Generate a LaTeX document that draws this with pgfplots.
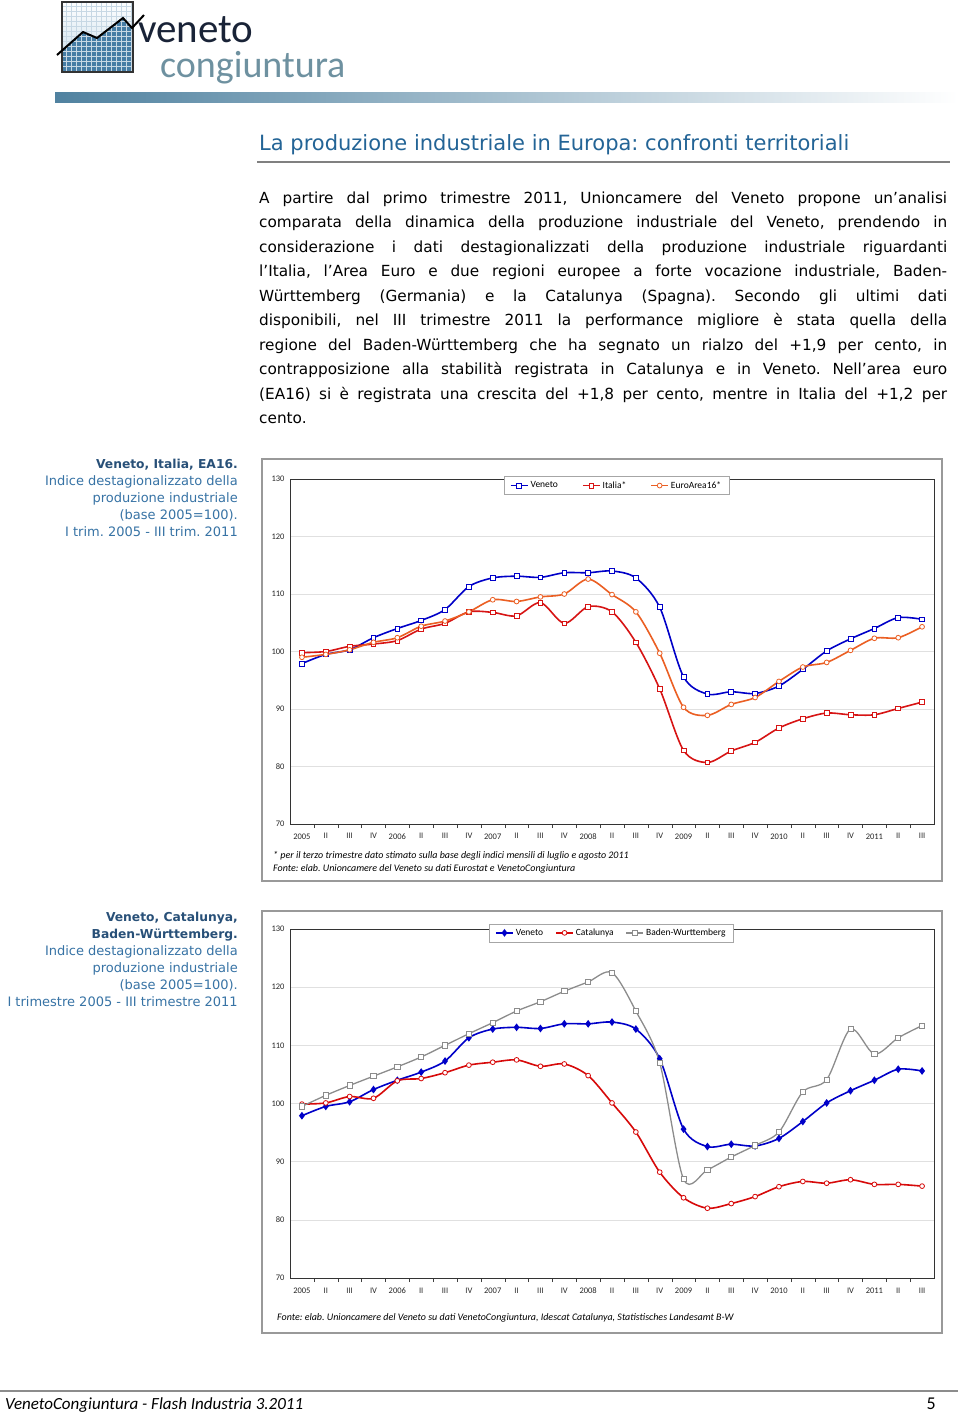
\documentclass[border=0pt]{standalone}
\usepackage{fontspec}
\setmainfont{DejaVu Sans}
\newfontfamily\carl{Carlito}
\usepackage{pgfplots}
\usepackage{pgfplotstable}
\pgfplotsset{compat=1.18}
\frenchspacing

\definecolor{titleblue}{RGB}{35,100,150}
\definecolor{capblue}{RGB}{55,115,165}
\definecolor{capdark}{RGB}{40,80,120}
\definecolor{vblue}{RGB}{0,0,200}
\definecolor{ired}{RGB}{215,20,20}
\definecolor{eorange}{RGB}{235,95,35}
\definecolor{cred}{RGB}{215,10,10}
\definecolor{bwgray}{RGB}{140,140,140}
\definecolor{logoblue}{RGB}{70,125,165}
\definecolor{barblue}{RGB}{80,130,160}
\definecolor{logodark}{RGB}{25,35,55}
\definecolor{logogray}{RGB}{110,145,160}

\pgfplotstableread{
x ven ita ea
1 97.9 99.8 99.0
2 99.5 100.0 99.5
3 100.3 100.9 100.3
4 102.4 101.3 101.6
5 104.0 101.9 102.4
6 105.4 103.9 104.4
7 107.3 104.9 105.3
8 111.3 106.9 106.9
9 112.8 106.8 109.0
10 113.1 106.2 108.7
11 112.9 108.5 109.5
12 113.7 104.9 110.0
13 113.7 107.8 112.6
14 114.0 106.9 109.9
15 112.8 101.6 106.9
16 107.7 93.5 99.7
17 95.6 82.8 90.3
18 92.6 80.7 88.9
19 93.0 82.7 90.8
20 92.7 84.2 92.0
21 94.0 86.7 94.8
22 96.9 88.3 97.3
23 100.1 89.3 98.1
24 102.2 89.0 100.2
25 104.0 89.0 102.3
26 105.9 90.1 102.4
27 105.6 91.2 104.3
}\dataA

\pgfplotstableread{
x ven cat bw
1 97.9 99.9 99.5
2 99.5 100.1 101.4
3 100.3 101.2 103.1
4 102.4 100.9 104.7
5 104.0 103.9 106.3
6 105.4 104.3 108.0
7 107.3 105.3 110.0
8 111.3 106.6 112.0
9 112.8 107.1 113.9
10 113.1 107.5 115.9
11 112.9 106.4 117.5
12 113.7 106.8 119.3
13 113.7 104.8 120.9
14 114.0 100.1 122.5
15 112.8 95.1 115.9
16 107.7 88.2 107.0
17 95.6 83.8 87.0
18 92.6 82.0 88.6
19 93.0 82.8 90.8
20 92.7 84.0 92.8
21 94.0 85.7 95.1
22 96.9 86.6 102.0
23 100.1 86.3 104.1
24 102.2 86.9 112.8
25 104.0 86.1 108.5
26 105.9 86.1 111.3
27 105.6 85.8 113.4
}\dataB

\pgfplotsset{
  pagechart/.style={
    scale only axis, width=644pt,
    xmin=0.5, xmax=27.5, ymin=70, ymax=130,
    ytick={70,80,...,130},
    xtick={1,...,27},
    xticklabels={2005,II,III,IV,2006,II,III,IV,2007,II,III,IV,2008,II,III,IV,2009,II,III,IV,2010,II,III,IV,2011,II,III},
    minor xtick={1.5,2.5,...,26.5},
    xtick pos=left, ytick pos=left,
    tick align=outside,
    major tick length=0pt,
    minor tick length=4pt,
    minor x tick style={draw=black!75},
    ymajorgrids, grid style={black!12},
    axis line style={draw=black!80, line width=0.8pt},
    /pgf/number format/assume math mode=true,
    ticklabel style={font=\carl\fontsize{8.5}{10}\selectfont, text=black!85},
    xticklabel style={yshift=-6pt},
    yticklabel style={xshift=-2pt},
    legend columns=3,
    legend style={draw=black!35, fill=white, font=\carl\fontsize{9.5}{10}\selectfont,
      inner xsep=6pt, inner ysep=3pt},
    legend cell align=left,
    every axis plot/.append style={smooth, tension=0.5},
  }
}

\begin{document}
\begin{tikzpicture}
\path[use as bounding box, fill=white] (0,0) rectangle (960pt,-1414pt);

\begin{scope}[x=1pt,y=-1pt]
% ---------- logo ----------
\shade[top color=white, bottom color={rgb,255:red,195;green,218;blue,232}] (62,2) rectangle (133,72);
\begin{scope}
\clip (62,2) rectangle (133,72);
\fill[logoblue] (57,55) -- (83,32) -- (97,38) -- (123,18) -- (132,28) -- (144,15) -- (144,80) -- (57,80) -- cycle;
\foreach \i in {66,71,...,131} \draw[white!70!logoblue, line width=0.4pt] (\i,2) -- (\i,72);
\foreach \j in {6,11,...,71} \draw[white!70!logoblue, line width=0.4pt] (62,\j) -- (133,\j);
\end{scope}
\draw[black!80, line width=1.2pt] (62,2) rectangle (133,72);
\draw[black, line width=2pt, line join=miter] (57,55) -- (83,32) -- (97,38) -- (123,18) -- (132,28) -- (144,15);
\node[anchor=base west, inner sep=0] at (138,42) {\carl\makebox[0pt][l]{\hspace*{22pt}\raisebox{-35pt}{\fontsize{38}{38}\selectfont\color{logogray}congiuntura}}\fontsize{41}{41}\selectfont\color{logodark}veneto};
\shade[left color=barblue, right color=white] (55,92) rectangle (958,102);

% ---------- title ----------
\node[anchor=base west, inner sep=0, text=titleblue] at (259,150) {\fontsize{21}{22}\selectfont La produzione industriale in Europa: confronti territoriali};
\draw[black!50, line width=1.5pt] (257,162) -- (950,162);

% ---------- body text ----------
\begin{scope}[every node/.style={anchor=base west, inner sep=0, font=\fontsize{15.3}{17}\selectfont}]
\node at (259,203) {\makebox[688pt][s]{A partire dal primo trimestre 2011, Unioncamere del Veneto propone un’analisi}};
\node at (259,227.5) {\makebox[688pt][s]{comparata della dinamica della produzione industriale del Veneto, prendendo in}};
\node at (259,252) {\makebox[688pt][s]{considerazione i dati destagionalizzati della produzione industriale riguardanti}};
\node at (259,276.5) {\makebox[688pt][s]{l’Italia, l’Area Euro e due regioni europee a forte vocazione industriale, Baden-}};
\node at (259,301) {\makebox[688pt][s]{Württemberg (Germania) e la Catalunya (Spagna). Secondo gli ultimi dati}};
\node at (259,325.5) {\makebox[688pt][s]{disponibili, nel III trimestre 2011 la performance migliore è stata quella della}};
\node at (259,350) {\makebox[688pt][s]{regione del Baden-Württemberg che ha segnato un rialzo del +1,9 per cento, in}};
\node at (259,374.5) {\makebox[688pt][s]{contrapposizione alla stabilità registrata in Catalunya e in Veneto. Nell’area euro}};
\node at (259,399) {\makebox[688pt][s]{(EA16) si è registrata una crescita del +1,8 per cento, mentre in Italia del +1,2 per}};
\node at (259,423.5) {cento.};
\end{scope}

% ---------- side captions ----------
\begin{scope}[every node/.style={anchor=base east, inner sep=0, font=\fontsize{13}{15}\selectfont, text=capblue}]
\node[text=capdark] at (238,468.5) {\fontsize{12.3}{14}\selectfont\textbf{Veneto, Italia, EA16.}};
\node at (238,485.5) {Indice destagionalizzato della};
\node at (238,502.5) {produzione industriale};
\node at (238,519.5) {(base 2005=100).};
\node at (238,536.5) {I trim. 2005 - III trim. 2011};
\node[text=capdark] at (238,921.5) {\fontsize{12.3}{14}\selectfont\textbf{Veneto, Catalunya,}};
\node[text=capdark] at (238,938.5) {\fontsize{12.3}{14}\selectfont\textbf{Baden-Württemberg.}};
\node at (238,955.5) {Indice destagionalizzato della};
\node at (238,972.5) {produzione industriale};
\node at (238,989.5) {(base 2005=100).};
\node at (238,1006.5) {I trimestre 2005 - III trimestre 2011};
\end{scope}

% ---------- chart frames ----------
\draw[black!40, line width=1.2pt] (262,459) rectangle (942,881);
\draw[black!40, line width=1.2pt] (262,911) rectangle (942,1333);

% ---------- chart notes ----------
\node[anchor=base west, inner sep=0] at (273,858) {\carl\itshape\fontsize{10}{12}\selectfont * per il terzo trimestre dato stimato sulla base degli indici mensili di luglio e agosto 2011};
\node[anchor=base west, inner sep=0] at (273,871) {\carl\itshape\fontsize{10}{12}\selectfont Fonte: elab. Unioncamere del Veneto su dati Eurostat e VenetoCongiuntura};
\node[anchor=base west, inner sep=0] at (277,1320) {\carl\itshape\fontsize{10}{12}\selectfont Fonte: elab. Unioncamere del Veneto su dati VenetoCongiuntura, Idescat Catalunya, Statistisches Landesamt B-W};

% ---------- footer ----------
\draw[black!45, line width=2pt] (0,1391) -- (958,1391);
\node[anchor=base west, inner sep=0] at (5,1409) {\carl\itshape\fontsize{17}{20}\selectfont VenetoCongiuntura - Flash Industria 3.2011};
\node[anchor=base east, inner sep=0] at (936,1409) {\carl\fontsize{18}{20}\selectfont 5};
\end{scope}

% ---------- chart 1 ----------
\begin{axis}[pagechart, height=345pt, at={(290pt,-824pt)}, anchor=south west,
  legend style={at={(0.507,0.981)}, anchor=center,
    /tikz/every even column/.append style={column sep=22pt}}]
\addplot[vblue, line width=1.6pt, mark=square*, mark size=2.4pt, mark options={fill=white, line width=0.8pt}] table[x=x, y=ven] {\dataA};
\addlegendentry{Veneto}
\addplot[ired, line width=1.6pt, mark=square*, mark size=2.4pt, mark options={fill=white, line width=0.8pt}] table[x=x, y=ita] {\dataA};
\addlegendentry{Italia*}
\addplot[eorange, line width=1.6pt, mark=*, mark size=2.4pt, mark options={fill=white, line width=0.8pt}] table[x=x, y=ea] {\dataA};
\addlegendentry{EuroArea16*}
\end{axis}

% ---------- chart 2 ----------
\begin{axis}[pagechart, height=349pt, at={(290pt,-1278pt)}, anchor=south west,
  legend style={at={(0.499,0.989)}, anchor=center,
    /tikz/every even column/.append style={column sep=10pt}}]
\addplot[vblue, line width=1.6pt, mark=diamond*, mark size=2.6pt, mark options={fill=vblue}] table[x=x, y=ven] {\dataB};
\addlegendentry{Veneto}
\addplot[cred, line width=1.6pt, mark=*, mark size=2.4pt, mark options={fill=white, line width=0.8pt}] table[x=x, y=cat] {\dataB};
\addlegendentry{Catalunya}
\addplot[bwgray, line width=1.3pt, mark=square*, mark size=2.6pt, mark options={fill=white, line width=0.8pt}] table[x=x, y=bw] {\dataB};
\addlegendentry{Baden-Wurttemberg}
\end{axis}
\end{tikzpicture}
\end{document}
